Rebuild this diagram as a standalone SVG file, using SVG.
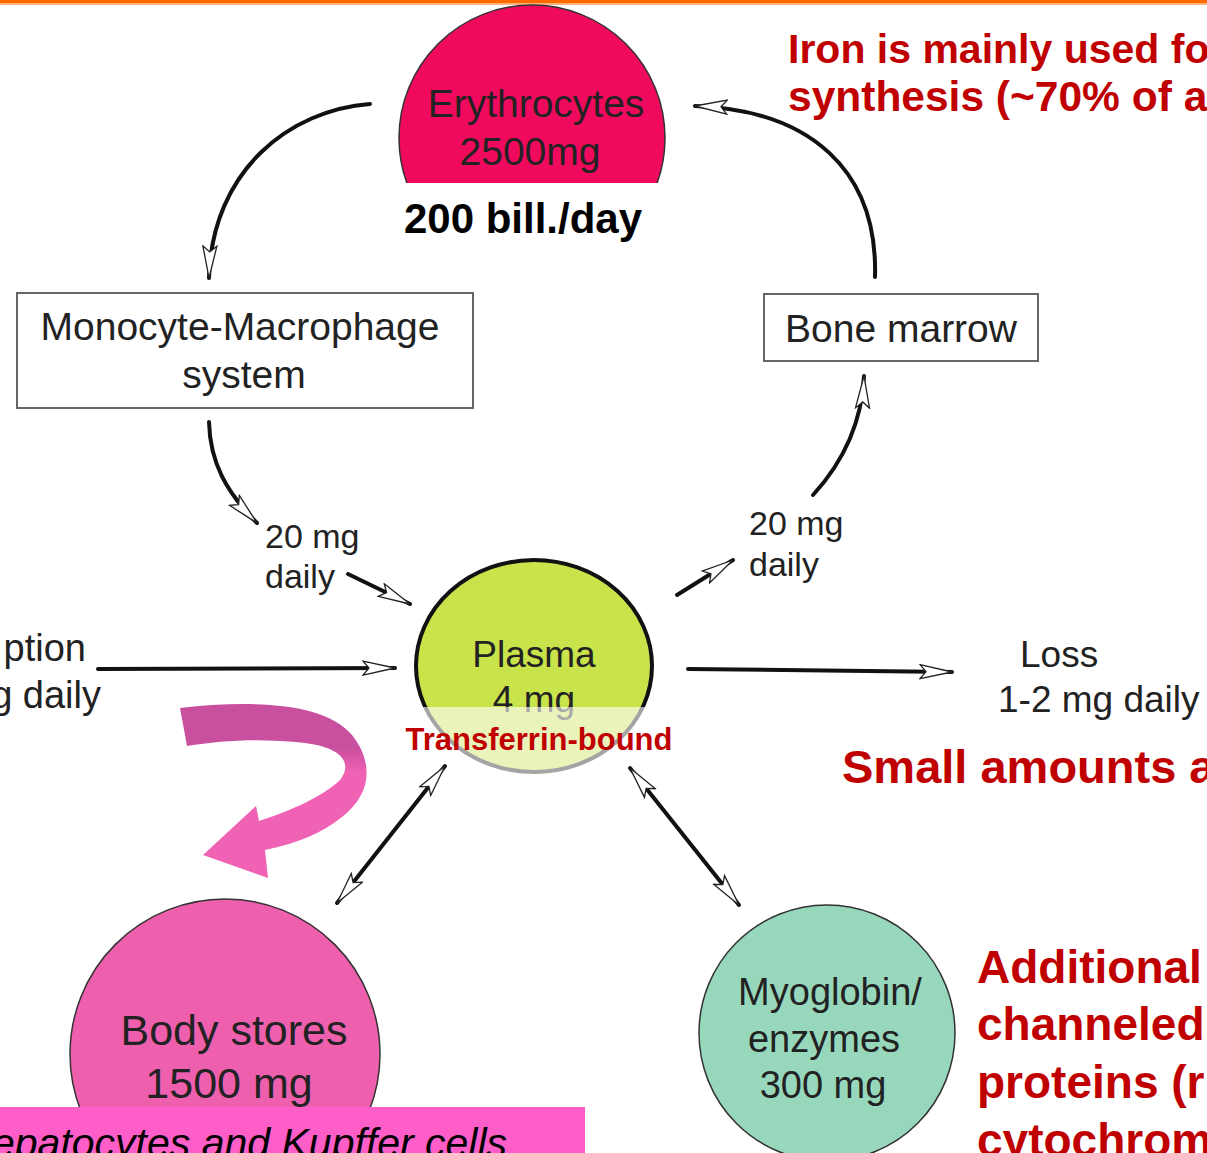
<svg xmlns="http://www.w3.org/2000/svg" width="1207" height="1153" viewBox="0 0 1207 1153">
<style>
.lbl{font-family:"Liberation Sans",Arial,sans-serif;fill:#222;text-anchor:middle}
.lbs{font-family:"Liberation Sans",Arial,sans-serif;fill:#222;text-anchor:start}
.lbe{font-family:"Liberation Sans",Arial,sans-serif;fill:#222;text-anchor:end}
.red{font-family:"Liberation Sans",Arial,sans-serif;font-weight:bold;fill:#c00000}
.con{fill:none;stroke:#111;stroke-width:4;stroke-linecap:round}
.box{fill:#fff;stroke:#666;stroke-width:2}
</style>
<defs>
<marker id="ah" markerUnits="userSpaceOnUse" markerWidth="36" markerHeight="18" refX="33" refY="8" orient="auto-start-reverse">
<path d="M1,1 L33,8 L1,15 L7,8 Z" fill="#fff" stroke="#222" stroke-width="1.3"/>
</marker>
<clipPath id="eclip"><rect x="0" y="0" width="1207" height="183"/></clipPath>
<linearGradient id="pg" gradientUnits="userSpaceOnUse" x1="0" y1="748" x2="0" y2="772">
<stop offset="0" stop-color="#c94f9f"/><stop offset="1" stop-color="#f062b3"/>
</linearGradient>
</defs>
<rect x="0" y="0" width="1207" height="1153" fill="#fff"/>
<rect x="0" y="0" width="1207" height="3" fill="#ff6a00"/>
<rect x="0" y="3" width="1207" height="2" fill="#ffb27a"/>

<g id="erythrocytes">
<circle cx="532" cy="138" r="133" fill="#f00a5e" stroke="#333" stroke-width="1.5" clip-path="url(#eclip)"/>
<text class="lbl" x="536" y="117" font-size="39">Erythrocytes</text>
<text class="lbl" x="530" y="165" font-size="39">2500mg</text>
</g>
<text id="rate" x="523" y="233" font-family="Liberation Sans,Arial,sans-serif" font-weight="bold" font-size="42" fill="#000" text-anchor="middle">200 bill./day</text>

<g id="monocyte">
<rect class="box" x="17" y="293" width="456" height="115"/>
<text class="lbl" x="240" y="340" font-size="39">Monocyte-Macrophage</text>
<text class="lbl" x="244" y="388" font-size="39">system</text>
</g>

<g id="bonemarrow">
<rect class="box" x="764" y="294" width="274" height="67"/>
<text class="lbl" x="901" y="342" font-size="39">Bone marrow</text>
</g>

<g id="pinkarrow">
<path d="M180,708 C250,700 325,702 352,735 C372,760 374,792 342,817 C322,833 298,843 265,850 L268,878 L203,855 L256,806 L259,821 C290,811 322,797 340,780 C352,765 345,748 305,743 C262,738 222,740 187,746 Z" fill="url(#pg)"/>
</g>

<g id="plasma">
<ellipse cx="534" cy="666" rx="118" ry="106" fill="#c9e34a" stroke="#111" stroke-width="4"/>
<text class="lbl" x="534" y="667" font-size="37">Plasma</text>
<text class="lbl" x="534" y="712" font-size="37">4 mg</text>
<rect x="395" y="707" width="285" height="70" fill="#fff" fill-opacity="0.62"/>
<text class="red" x="539" y="750" font-size="31" text-anchor="middle">Transferrin-bound</text>
</g>

<g id="bodystores">
<circle cx="225" cy="1054" r="155" fill="#ee5fae" stroke="#333" stroke-width="1.5"/>
<text class="lbl" x="234" y="1045" font-size="43">Body stores</text>
<text class="lbl" x="229" y="1098" font-size="43">1500 mg</text>
</g>
<g id="hepatocytes">
<rect x="0" y="1107" width="585" height="46" fill="#ff5ec8"/>
<text x="-8" y="1157" font-family="Liberation Sans,Arial,sans-serif" font-style="italic" font-size="41" fill="#000">epatocytes and Kupffer cells</text>
</g>

<g id="myoglobin">
<circle cx="827" cy="1033" r="128" fill="#97d8bd" stroke="#333" stroke-width="1.5"/>
<text class="lbl" x="830" y="1005" font-size="38">Myoglobin/</text>
<text class="lbl" x="824" y="1052" font-size="38">enzymes</text>
<text class="lbl" x="823" y="1098" font-size="38">300 mg</text>
</g>

<g id="connectors">
<path class="con" d="M370,104 C290,110 212,170 209,278" marker-end="url(#ah)"/>
<path class="con" d="M875,277 C878,170 810,110 695,106" marker-end="url(#ah)"/>
<path class="con" d="M209,422 C210,462 226,492 257,523" marker-end="url(#ah)"/>
<path class="con" d="M348,574 L410,604" marker-end="url(#ah)"/>
<path class="con" d="M677,595 L733,560" marker-end="url(#ah)"/>
<path class="con" d="M813,495 C845,460 862,420 864,376" marker-end="url(#ah)"/>
<path class="con" d="M98,669 L395,668" marker-end="url(#ah)"/>
<path class="con" d="M688,669 L952,672" marker-end="url(#ah)"/>
<path class="con" d="M337,903 L445,766" marker-start="url(#ah)" marker-end="url(#ah)"/>
<path class="con" d="M630,768 L739,905" marker-start="url(#ah)" marker-end="url(#ah)"/>
</g>

<g id="labels">
<text class="lbs" x="265" y="548" font-size="34">20 mg</text>
<text class="lbs" x="265" y="588" font-size="34">daily</text>
<text class="lbs" x="749" y="535" font-size="34">20 mg</text>
<text class="lbs" x="749" y="576" font-size="34">daily</text>
<text class="lbe" x="86" y="661" font-size="38">ption</text>
<text class="lbe" x="101" y="708" font-size="38">g daily</text>
<text class="lbs" x="1020" y="667" font-size="37">Loss</text>
<text class="lbs" x="998" y="712" font-size="37">1-2 mg daily</text>
</g>

<g id="notes">
<text class="red" x="788" y="63" font-size="41">Iron is mainly used fo</text>
<text class="red" x="788" y="111" font-size="42.5">synthesis (~70% of a</text>
<text class="red" x="842" y="783" font-size="47">Small amounts a</text>
<text class="red" x="977" y="983" font-size="46">Additional</text>
<text class="red" x="977" y="1040" font-size="46">channeled</text>
<text class="red" x="977" y="1098" font-size="46">proteins (r</text>
<text class="red" x="977" y="1156" font-size="46">cytochrom</text>
</g>
</svg>
